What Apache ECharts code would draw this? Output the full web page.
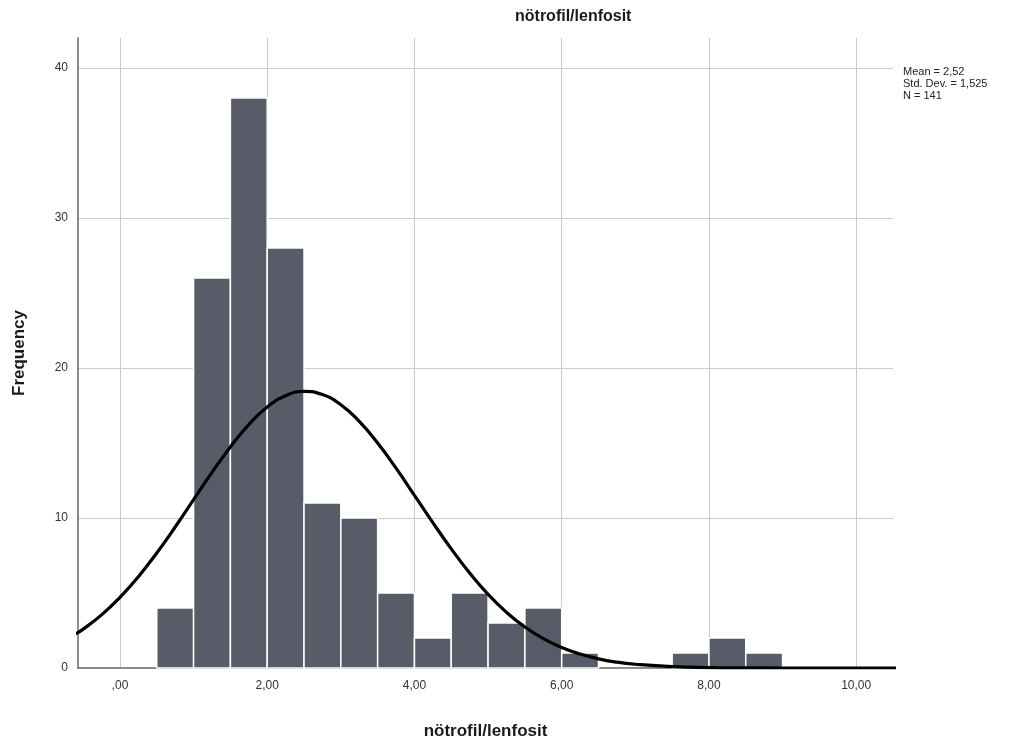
<!DOCTYPE html>
<html><head><meta charset="utf-8">
<script src="https://cdn.jsdelivr.net/npm/echarts@6/dist/echarts.min.js"></script>
<style>html,body{margin:0;padding:0;background:#fff}#c{width:1027px;height:751px}</style>
</head><body><div id="c"></div>
<script>
// Histogram bins (start, end) and frequencies
const binStarts = [0.5,1.0,1.5,2.0,2.5,3.0,3.5,4.0,4.5,5.0,5.5,6.0,7.5,8.0,8.5];
const binWidth = 0.5;
const frequencies = [4,26,38,28,11,10,5,2,5,3,4,1,1,2,1];
// Normal curve
const curveX = [-0.6,-0.5,-0.25,0,0.25,0.5,0.75,1.0,1.25,1.5,1.75,2.0,2.25,2.5,2.75,3.0,3.25,3.5,3.75,4.0,4.25,4.5,4.75,5.0,5.25,5.5,5.75,6.0,6.25,6.5,6.75,7.0,7.5,8.0,8.5,9.0,10.0,10.6];
const curveY = [2.27,2.59,3.54,4.71,6.09,7.67,9.40,11.22,13.04,14.74,16.23,17.40,18.15,18.44,18.23,17.55,16.44,15.00,13.32,11.51,9.69,7.94,6.33,4.91,3.71,2.73,1.96,1.36,0.93,0.61,0.39,0.25,0.09,0.03,0.01,0.0,0.0,0.0];
const xTicks = [0,2,4,6,8,10];
const xTickLabels = [",00","2,00","4,00","6,00","8,00","10,00"];
const yTicks = [0,10,20,30,40];
const statsText = ["Mean = 2,52","Std. Dev. = 1,525","N = 141"];
const titleText = "nötrofil/lenfosit";

const font = "'Liberation Sans', Arial, sans-serif";
const chart = echarts.init(document.getElementById('c'), null, {renderer:'canvas'});
const barData = binStarts.map((s,i)=>[s, s+binWidth, frequencies[i]]);
chart.setOption({
  animation:false,
  backgroundColor:'#fff',
  title:{text:titleText, left:510, top:4, textStyle:{fontFamily:font, fontSize:16, fontWeight:'bold', color:'#1a1a1a'}},
  graphic:[{type:'text', left:903, top:66, style:{text:statsText.join('\n'), font:"11px "+font, fill:'#222', lineHeight:12}}],
  grid:{left:78, right:134, top:38, bottom:83},
  xAxis:{type:'value', min:-0.57, max:10.5,
    name:titleText, nameLocation:'middle', nameGap:55,
    nameTextStyle:{fontFamily:font, fontSize:17, fontWeight:'bold', color:'#1a1a1a'},
    axisLine:{show:true, onZero:false, lineStyle:{color:'#666', width:1.5}},
    axisTick:{show:false},
    splitLine:{show:false},
    axisLabel:{customValues:xTicks, formatter:v=>{const i=xTicks.indexOf(v);return i>=0?xTickLabels[i]:'';}, fontFamily:font, fontSize:12, color:'#333', margin:12}
  },
  yAxis:{type:'value', min:0, max:42,
    name:'Frequency', nameLocation:'middle', nameGap:50,
    nameTextStyle:{fontFamily:font, fontSize:17, fontWeight:'bold', color:'#1a1a1a'},
    axisLine:{show:true, onZero:false, lineStyle:{color:'#666', width:1.5}},
    axisTick:{show:false},
    splitLine:{show:false},
    axisLabel:{customValues:yTicks, fontFamily:font, fontSize:12, color:'#333', margin:10}
  },
  series:[
    {type:'line', data:[], silent:true, z:0, zlevel:0,
     markLine:{silent:true, symbol:'none', label:{show:false}, z:0,
       lineStyle:{color:'#c9c9d3', width:1, type:'solid'},
       data:xTicks.map(v=>({xAxis:v})).concat(yTicks.filter(v=>v>0).map(v=>({yAxis:v})))}},
    {type:'custom', data:barData, z:5,
     renderItem:(params, api)=>{
       const p0 = api.coord([api.value(0), api.value(2)]);
       const p1 = api.coord([api.value(1), 0]);
       return {type:'rect', shape:{x:p0[0], y:p0[1], width:p1[0]-p0[0], height:p1[1]-p0[1]},
         style:{fill:'#585c68', stroke:'#ffffff', lineWidth:1.5}};
     },
     encode:{x:[0,1], y:2}},
    {type:'line', data:curveX.map((x,i)=>[x,curveY[i]]), smooth:true, showSymbol:false, z:8, clip:true,
     lineStyle:{color:'#000', width:3.2}}
  ]
});
</script></body></html>
